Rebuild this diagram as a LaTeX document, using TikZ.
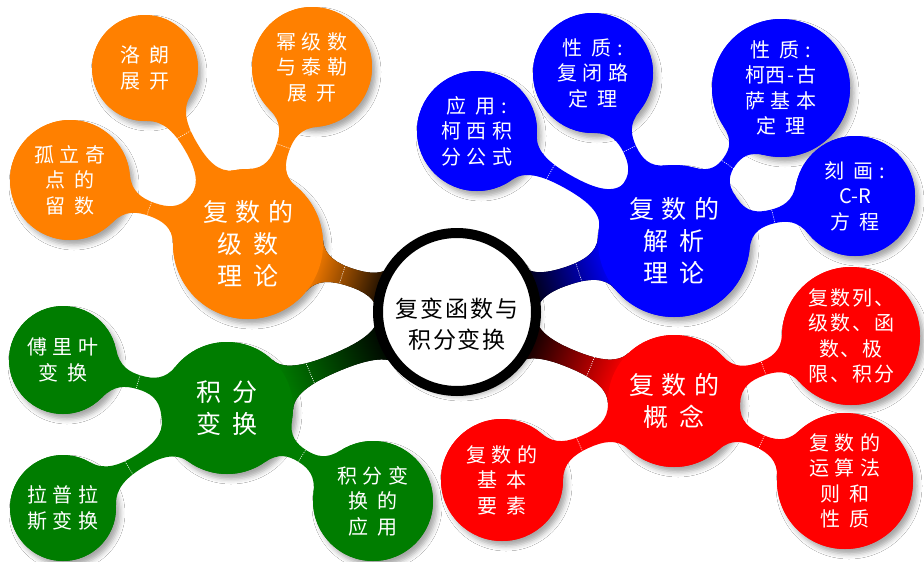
\documentclass[tikz,border=0pt]{standalone}
\usepackage{fontspec}
\setmainfont{Noto Sans CJK SC}
\newfontfamily\mainf[LetterSpace=30]{Noto Sans CJK SC}
\newfontfamily\subf[LetterSpace=28]{Noto Sans CJK SC}
\newfontfamily\tightf[LetterSpace=10]{Noto Sans CJK SC}
\newfontfamily\centf[LetterSpace=8]{Noto Sans CJK SC}
\newfontfamily\plainf{Noto Sans CJK SC}
\usetikzlibrary{calc,shadows.blur}
\definecolor{cor}{RGB}{255,128,0}
\definecolor{cbl}{RGB}{0,0,255}
\definecolor{crd}{RGB}{255,0,0}
\definecolor{cgr}{RGB}{0,125,0}
\newcommand\gp{\hspace{0.45em}}
% point = base + a*u + b*n
\newcommand\bqset[5]{%
  \pgfmathsetmacro\bqtmpx{(#2)+(#4)*(\bqux)+(#5)*(\bqnx)}%
  \pgfmathsetmacro\bqtmpy{(#3)+(#4)*(\bquy)+(#5)*(\bqny)}%
  \coordinate (#1) at (\bqtmpx pt,\bqtmpy pt);}
% organic branch from node #1 (parent) to node #2 (child), neck half width #3, fill options #4
\newcommand\branch[4]{%
  \pgfpointanchor{#1}{center}\pgfgetlastxy\bqAx\bqAy
  \pgfpointanchor{#1}{east}\pgfgetlastxy\bqAex\bqAey
  \pgfpointanchor{#2}{center}\pgfgetlastxy\bqBx\bqBy
  \pgfpointanchor{#2}{east}\pgfgetlastxy\bqBex\bqBey
  \pgfmathsetmacro\bqax{\bqAx}\pgfmathsetmacro\bqay{\bqAy}%
  \pgfmathsetmacro\bqbx{\bqBx}\pgfmathsetmacro\bqby{\bqBy}%
  \pgfmathsetmacro\bqra{\bqAex-\bqAx}%
  \pgfmathsetmacro\bqrb{\bqBex-\bqBx}%
  \pgfmathsetmacro\bqdx{\bqbx-\bqax}%
  \pgfmathsetmacro\bqdy{\bqby-\bqay}%
  \pgfmathsetmacro\bqd{veclen(\bqdx,\bqdy)}%
  \pgfmathsetmacro\bqux{\bqdx/\bqd}%
  \pgfmathsetmacro\bquy{\bqdy/\bqd}%
  \pgfmathsetmacro\bqnx{0-(\bquy)}%
  \pgfmathsetmacro\bqny{\bqux}%
  \pgfmathsetmacro\bqg{\bqd-\bqra-\bqrb}%
  \pgfmathsetmacro\bqw{#3}%
  \pgfmathsetmacro\bqsa{min(0.9,(\bqw+18)/\bqra)}%
  \pgfmathsetmacro\bqca{sqrt(1-\bqsa*\bqsa)}%
  \pgfmathsetmacro\bqsb{min(0.9,(\bqw+18)/\bqrb)}%
  \pgfmathsetmacro\bqcb{sqrt(1-\bqsb*\bqsb)}%
  \pgfmathsetmacro\bqka{15/\bqca}%
  \pgfmathsetmacro\bqkb{15/\bqcb}%
  \pgfmathsetmacro\bqkn{0.25*\bqg}%
  \pgfmathsetmacro\bqm{\bqra+\bqg/2}%
  \pgfmathsetmacro\bqang{atan2(0-(\bquy),0-(\bqux))-90}%
  \bqset{bqP1}{\bqax}{\bqay}{\bqra*\bqca}{\bqra*\bqsa}%
  \bqset{bqP2}{\bqax}{\bqay}{\bqra*\bqca}{0-\bqra*\bqsa}%
  \bqset{bqQ1}{\bqbx}{\bqby}{0-\bqrb*\bqcb}{\bqrb*\bqsb}%
  \bqset{bqQ2}{\bqbx}{\bqby}{0-\bqrb*\bqcb}{0-\bqrb*\bqsb}%
  \bqset{bqN1}{\bqax}{\bqay}{\bqm}{\bqw}%
  \bqset{bqN2}{\bqax}{\bqay}{\bqm}{0-\bqw}%
  \bqset{bqC1}{\bqax}{\bqay}{\bqra*\bqca+\bqka*\bqsa}{\bqra*\bqsa-\bqka*\bqca}%
  \bqset{bqC2}{\bqax}{\bqay}{\bqm-\bqkn}{\bqw}%
  \bqset{bqC3}{\bqax}{\bqay}{\bqm+\bqkn}{\bqw}%
  \bqset{bqC4}{\bqbx}{\bqby}{0-\bqrb*\bqcb-\bqkb*\bqsb}{\bqrb*\bqsb-\bqkb*\bqcb}%
  \bqset{bqC5}{\bqbx}{\bqby}{0-\bqrb*\bqcb-\bqkb*\bqsb}{0-\bqrb*\bqsb+\bqkb*\bqcb}%
  \bqset{bqC6}{\bqax}{\bqay}{\bqm+\bqkn}{0-\bqw}%
  \bqset{bqC7}{\bqax}{\bqay}{\bqm-\bqkn}{0-\bqw}%
  \bqset{bqC8}{\bqax}{\bqay}{\bqra*\bqca+\bqka*\bqsa}{0-\bqra*\bqsa+\bqka*\bqca}%
  \bqset{bqT1}{\bqbx}{\bqby}{0-\bqrb-24}{\bqw+6}%
  \bqset{bqT2}{\bqbx}{\bqby}{0-\bqrb-24}{0-\bqw-6}%
  \fill[#4] (bqP1) .. controls (bqC1) and (bqC2) .. (bqN1)
     .. controls (bqC3) and (bqC4) .. (bqQ1) -- (bqQ2)
     .. controls (bqC5) and (bqC6) .. (bqN2)
     .. controls (bqC7) and (bqC8) .. (bqP2) -- cycle;
  \draw[ticks] (bqT1) -- (bqT2);}
\begin{document}
\begin{tikzpicture}[x=1pt,y=-1pt,
  blob/.style={circle,inner sep=0pt,minimum size=#1pt},
  shd/.style={blur shadow={shadow xshift=4pt,shadow yshift=-5pt,shadow blur radius=5pt,shadow opacity=35}},
  maintext/.style={text=white,font=\mainf\fontsize{25}{32}\selectfont,align=center},
  subtext/.style={text=white,font=\subf\fontsize{20}{25.5}\selectfont,align=center},
  ticks/.style={white,line width=0.6pt,dash pattern=on 1pt off 1.2pt}]
\fill[white] (0,0) rectangle (924,562);
\useasboundingbox (0,0) rectangle (924,562);
% circles with shadows
\node[blob=158,shd,fill=white] (cen) at (457,312) {};
\node[blob=150,shd,fill=cor] (orm) at (248,244) {};
\node[blob=106,shd,fill=cor] (o1) at (145,68) {};
\node[blob=120,shd,fill=cor] (o2) at (312,67) {};
\node[blob=120,shd,fill=cor] (o3) at (70,180) {};
\node[blob=152,shd,fill=cbl] (blm) at (674,241) {};
\node[blob=120,shd,fill=cbl] (b1) at (477,131) {};
\node[blob=120,shd,fill=cbl] (b2) at (593,73) {};
\node[blob=138,shd,fill=cbl] (b3) at (781,88) {};
\node[blob=120,shd,fill=cbl] (b4) at (855,196) {};
\node[blob=132,shd,fill=crd] (rdm) at (674,401) {};
\node[blob=138,shd,fill=crd] (r1) at (851,336) {};
\node[blob=122,shd,fill=crd] (r2) at (502,480) {};
\node[blob=136,shd,fill=crd] (r3) at (845,481) {};
\node[blob=132,shd,fill=cgr] (grm) at (227,408) {};
\node[blob=108,shd,fill=cgr] (g1) at (63,360) {};
\node[blob=106,shd,fill=cgr] (g2) at (63,508) {};
\node[blob=120,shd,fill=cgr] (g3) at (373,501) {};
% branches
\branch{cen}{orm}{9}{top color=black,bottom color=cor,shading angle=\bqang}
\branch{cen}{blm}{9}{top color=black,bottom color=cbl,shading angle=\bqang}
\branch{cen}{rdm}{9}{top color=black,bottom color=crd,shading angle=\bqang}
\branch{cen}{grm}{9}{top color=black,bottom color=cgr,shading angle=\bqang}
\branch{orm}{o1}{7}{fill=cor}
\branch{orm}{o2}{7}{fill=cor}
\branch{orm}{o3}{7}{fill=cor}
\branch{blm}{b1}{7}{fill=cbl}
\branch{blm}{b2}{7}{fill=cbl}
\branch{blm}{b3}{7}{fill=cbl}
\branch{blm}{b4}{7}{fill=cbl}
\branch{rdm}{r1}{7}{fill=crd}
\branch{rdm}{r2}{7}{fill=crd}
\branch{rdm}{r3}{7}{fill=crd}
\branch{grm}{g1}{7}{fill=cgr}
\branch{grm}{g2}{7}{fill=cgr}
\branch{grm}{g3}{7}{fill=cgr}
% circles with text on top
\node[blob=158,draw=black,line width=10pt,fill=white] (cen-r) at (cen) {};
\node[text=black,font=\centf\fontsize{23}{31}\selectfont,align=center] (cen-t) at ($(cen)+(0,12)$) {复变函数与\\积分变换};
\node[blob=150,fill=cor,maintext] (orm-t) at (orm) {复数的\\级\gp 数\\理\gp 论};
\node[blob=106,fill=cor,subtext] (o1-t) at (o1) {洛\gp 朗\\展\gp 开};
\node[blob=120,fill=cor,subtext] (o2-t) at (o2) {幂级数\\与泰勒\\展\gp 开};
\node[blob=120,fill=cor,subtext] (o3-t) at (o3) {孤立奇\\点\gp 的\\留\gp 数};
\node[blob=152,fill=cbl,maintext] (blm-t) at (blm) {复数的\\解\gp 析\\理\gp 论};
\node[blob=120,fill=cbl,subtext] (b1-t) at (b1) {应\gp 用:\\柯西积\\分公式};
\node[blob=120,fill=cbl,subtext] (b2-t) at (b2) {性\gp 质:\\复闭路\\定\gp 理};
\node[blob=138,fill=cbl,subtext] (b3-t) at (b3) {性\gp 质:\\柯{\plainf 西\kern0.1em-\kern0.1em}古\\萨基本\\定\gp 理};
\node[blob=120,fill=cbl,subtext] (b4-t) at (b4) {刻\gp 画:\\{\plainf C-R}\\方\gp 程};
\node[blob=132,fill=crd,maintext] (rdm-t) at (rdm) {复数的\\概\gp 念};
\node[blob=138,fill=crd,text=white,font=\tightf\fontsize{20}{25.5}\selectfont,align=center] (r1-t) at (r1) {复数列、\\级数、函\\数、极\\限、积分};
\node[blob=122,fill=crd,subtext] (r2-t) at (r2) {复数的\\基\gp 本\\要\gp 素};
\node[blob=136,fill=crd,subtext] (r3-t) at (r3) {复数的\\运算法\\则\gp 和\\性\gp 质};
\node[blob=132,fill=cgr,maintext] (grm-t) at (grm) {积\gp 分\\变\gp 换};
\node[blob=108,fill=cgr,subtext] (g1-t) at (g1) {傅里叶\\变\gp 换};
\node[blob=106,fill=cgr,subtext] (g2-t) at (g2) {拉普拉\\斯变换};
\node[blob=120,fill=cgr,subtext] (g3-t) at (g3) {积分变\\换\gp 的\\应\gp 用};
\end{tikzpicture}
\end{document}
